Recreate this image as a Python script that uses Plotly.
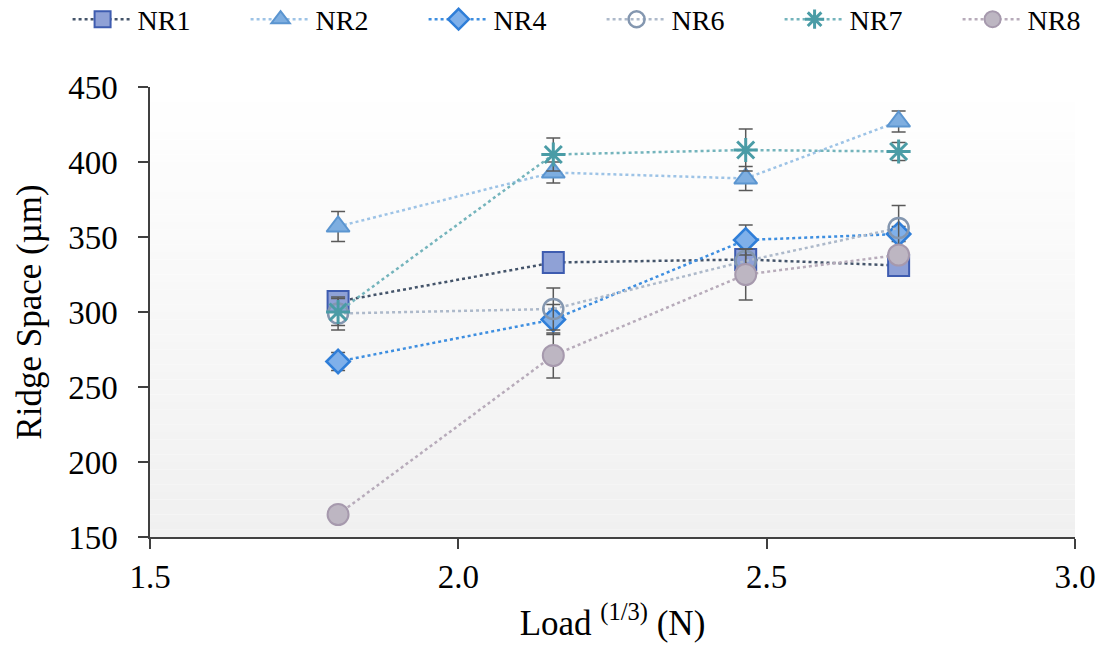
import plotly.graph_objects as go

load_cuberoot = [1.805, 2.154, 2.466, 2.714]
series_names = ["NR1", "NR2", "NR4", "NR6", "NR7", "NR8"]
NR1 = [307, 333, 335, 331]
NR1_err = [4, 3, 4, 4]
NR2 = [357, 393, 389, 427]
NR2_err = [10, 7, 8, 7]
NR4 = [267, 295, 348, 352]
NR4_err = [6, 10, 10, 5]
NR6 = [299, 302, 334, 356]
NR6_err = [11, 14, 8, 15]
NR7 = [300, 405, 408, 407]
NR7_err = [9, 11, 14, 6]
NR8 = [165, 271, 325, 338]
NR8_err = [3, 15, 17, 5]

x_ticks = [1.5, 2.0, 2.5, 3.0]
x_ticklabels = ["1.5", "2.0", "2.5", "3.0"]
y_ticks = [150, 200, 250, 300, 350, 400, 450]

styles = {
    "NR1": dict(line="#44546a", symbol="square", size=21, fill="#8fa1d6", border="#3e5cb0", bw=2),
    "NR2": dict(line="#9dc3e6", symbol="triangle-up", size=20, fill="#7eaee0", border="#5b95d0", bw=2),
    "NR4": dict(line="#3d8ee0", symbol="diamond", size=18, fill="#7fb0ea", border="#2f7ed8", bw=2.5),
    "NR6": dict(line="#adb9ca", symbol="circle-open", size=20, fill="#8497b0", border="#8497b0", bw=2.5),
    "NR7": dict(line="#74b4bc", symbol="asterisk-open", size=20, fill="#4a9ca6", border="#4a9ca6", bw=3),
    "NR8": dict(line="#b7abba", symbol="circle", size=21, fill="#bdb6c2", border="#a699ad", bw=2),
}

data = {"NR1": (NR1, NR1_err), "NR2": (NR2, NR2_err), "NR4": (NR4, NR4_err),
        "NR6": (NR6, NR6_err), "NR7": (NR7, NR7_err), "NR8": (NR8, NR8_err)}

fig = go.Figure()
for name in series_names:
    vals, errs = data[name]
    s = styles[name]
    fig.add_trace(go.Scatter(
        x=load_cuberoot, y=vals, name=name, mode="lines+markers",
        line=dict(color=s["line"], width=2.5, dash="dot"),
        marker=dict(symbol=s["symbol"], size=s["size"], color=s["fill"],
                    line=dict(color=s["border"], width=s["bw"])),
        error_y=dict(type="data", array=errs, visible=True, color="#595959",
                     thickness=1.5, width=7),
    ))

# gradient plot background
n = 60
for i in range(n):
    t = (i + 0.5) / n
    c = int(round(255 - (255 - 240) * (1 - t)))
    fig.add_shape(type="rect", xref="paper", yref="paper",
                  x0=0, x1=1, y0=i / n, y1=(i + 1) / n,
                  fillcolor=f"rgb({c},{c},{c})", line=dict(width=0), layer="below")

font_family = '"Liberation Serif", "Times New Roman", "DejaVu Serif", serif'
fig.update_layout(
    width=1106, height=650,
    margin=dict(l=150, r=31, t=87, b=113, autoexpand=False),
    paper_bgcolor="white", plot_bgcolor="white",
    font=dict(family=font_family, size=30, color="#000000"),
    showlegend=True,
    legend=dict(orientation="h", x=-0.0891, xanchor="left", y=1.15, yanchor="middle",
                font=dict(size=28, family=font_family), itemwidth=60,
                entrywidth=103, entrywidthmode="pixels",
                bgcolor="rgba(0,0,0,0)", tracegroupgap=0),
    xaxis=dict(range=[1.5, 3.0], tickvals=x_ticks, ticktext=x_ticklabels,
               showgrid=False, zeroline=False, showline=True, linecolor="#404040", linewidth=1.5,
               ticks="outside", ticklen=10, tickwidth=1.5, tickcolor="#404040",
               tickfont=dict(size=33, family=font_family),
               title=dict(text="Load <sup>(1/3)</sup> (N)", font=dict(size=35, family=font_family), standoff=16)),
    yaxis=dict(range=[150, 450], tickvals=y_ticks,
               showgrid=False, zeroline=False, showline=True, linecolor="#404040", linewidth=1.5,
               ticks="outside", ticklen=10, tickwidth=1.5, tickcolor="#404040",
               ticklabelstandoff=14,
               tickfont=dict(size=33, family=font_family),
               title=dict(text="Ridge Space (µm)", font=dict(size=35, family=font_family), standoff=16)),
)

fig.write_html("out.html", post_script="document.body.style.margin='0';",
               config={"displayModeBar": False})
